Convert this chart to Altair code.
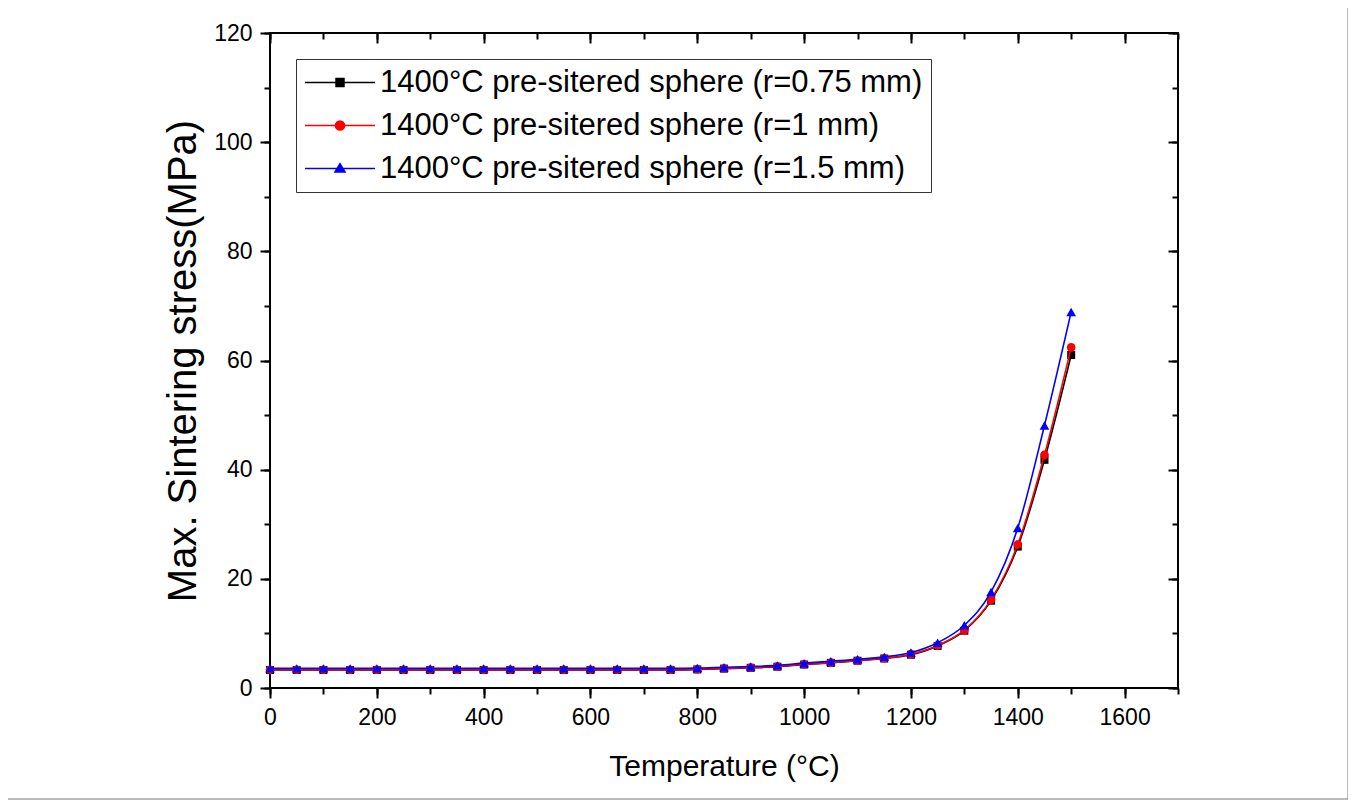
import altair as alt
import pandas as pd

FONT = "Liberation Sans"

temps = [0, 50, 100, 150, 200, 250, 300, 350, 400, 450, 500, 550, 600, 650, 700, 750,
         800, 850, 900, 950, 1000, 1050, 1100, 1150, 1200, 1250, 1300, 1350, 1400, 1450, 1500]

r075 = [3.3, 3.3, 3.3, 3.3, 3.3, 3.3, 3.3, 3.3, 3.3, 3.3, 3.3, 3.3, 3.3, 3.3, 3.3, 3.3,
        3.4, 3.55, 3.7, 3.9, 4.3, 4.6, 5.0, 5.4, 6.1, 7.7, 10.5, 16.0, 25.9, 41.8, 61.0]
r1 = [3.35, 3.35, 3.35, 3.35, 3.35, 3.35, 3.35, 3.35, 3.35, 3.35, 3.35, 3.35, 3.35, 3.35, 3.35, 3.35,
      3.45, 3.6, 3.75, 3.95, 4.35, 4.65, 5.0, 5.45, 6.2, 7.8, 10.6, 16.2, 26.3, 42.7, 62.4]
r15 = [3.6, 3.6, 3.6, 3.6, 3.6, 3.6, 3.6, 3.6, 3.6, 3.6, 3.6, 3.6, 3.6, 3.6, 3.6, 3.6,
       3.65, 3.8, 3.95, 4.15, 4.55, 4.9, 5.25, 5.7, 6.5, 8.3, 11.5, 17.6, 29.3, 48.1, 68.9]

series_names = ["1400°C pre-sitered sphere (r=0.75 mm)",
                "1400°C pre-sitered sphere (r=1 mm)",
                "1400°C pre-sitered sphere (r=1.5 mm)"]
colors = ["#000000", "#ff0000", "#0000ff"]
shapes = ["square", "circle", "triangle-up"]
marker_sizes = [64, 75, 95]
legend_paths = [
    "M-1,0H1M-0.114,-0.114H0.114V0.114H-0.114Z",
    "M-1,0H1M0.13,0A0.13,0.13 0 1,1 -0.13,0A0.13,0.13 0 1,1 0.13,0Z",
    "M-1,0H1M0,-0.14L0.145,0.1H-0.145Z",
]

x_major = [0, 200, 400, 600, 800, 1000, 1200, 1400, 1600]
x_minor = [0, 100, 200, 300, 400, 500, 600, 700, 800, 900, 1000, 1100, 1200, 1300, 1400, 1500, 1600, 1700]
y_major = [0, 20, 40, 60, 80, 100, 120]
y_minor = [0, 10, 20, 30, 40, 50, 60, 70, 80, 90, 100, 110, 120]

rows = []
for name, vals in zip(series_names, [r075, r1, r15]):
    for t, v in zip(temps, vals):
        rows.append({"T": t, "v": v, "s": name})
df = pd.DataFrame(rows)

xs = alt.Scale(domain=[0, 1700], nice=False, zero=False)
ys = alt.Scale(domain=[0, 120], nice=False, zero=False)

common = dict(tickColor="black", tickWidth=2, domain=False, grid=False)

ax_bottom = alt.Axis(orient="bottom", values=x_major, format="d", tickSize=10, labelFontSize=23,
                     labelFont=FONT, labelColor="black", labelPadding=8, labelFlush=False,
                     labelOverlap=False, title="Temperature (°C)", titleFontSize=30, titleFont=FONT,
                     titleFontWeight="normal", titleColor="black", titlePadding=22, **common)
ax_left = alt.Axis(orient="left", values=y_major, format="d", tickSize=10, labelFontSize=23,
                   labelFont=FONT, labelColor="black", labelPadding=8, labelFlush=False,
                   labelOverlap=False, title="Max. Sintering stress(MPa)", titleFontSize=40,
                   titleFont=FONT, titleFontWeight="normal", titleColor="black", titlePadding=10,
                   **common)
ax_bottom_minor = alt.Axis(orient="bottom", values=x_minor, tickSize=6, labels=False, title=None, **common)
ax_left_minor = alt.Axis(orient="left", values=y_minor, tickSize=6, labels=False, title=None, **common)
ax_top = alt.Axis(orient="top", values=x_major, tickSize=10, offset=-10, labels=False, title=None, **common)
ax_right = alt.Axis(orient="right", values=y_major, tickSize=10, offset=-10, labels=False, title=None, **common)
ax_top_minor = alt.Axis(orient="top", values=x_minor, tickSize=6, offset=-6, labels=False, title=None, **common)
ax_right_minor = alt.Axis(orient="right", values=y_minor, tickSize=6, offset=-6, labels=False, title=None, **common)

xe = alt.X("T:Q", scale=xs, axis=ax_bottom)
ye = alt.Y("v:Q", scale=ys, axis=ax_left)

data_charts = []
for name, c, sh, sz in zip(series_names, colors, shapes, marker_sizes):
    sub = df[df["s"] == name]
    data_charts.append(
        alt.Chart(sub).mark_line(color=c, strokeWidth=1.6, interpolate="monotone").encode(x=xe, y=ye)
    )
    data_charts.append(
        alt.Chart(sub).mark_point(shape=sh, filled=True, color=c, size=sz, opacity=1).encode(x=xe, y=ye)
    )
data_layer = alt.layer(*data_charts)

def axis_layer(xa, ya):
    return alt.Chart(df).mark_point(opacity=0).encode(
        x=alt.X("T:Q", scale=xs, axis=xa), y=alt.Y("v:Q", scale=ys, axis=ya))

minor_layer = axis_layer(ax_bottom_minor, ax_left_minor)
top_layer = axis_layer(ax_top, ax_right)
top_minor_layer = axis_layer(ax_top_minor, ax_right_minor)

leg = alt.Legend(orient="none", legendX=26, legendY=26, padding=8, strokeColor="#333333",
                 fillColor="white", labelFontSize=31, labelFont=FONT, labelColor="black",
                 labelLimit=1000, symbolSize=4900, symbolStrokeWidth=1.5, rowPadding=11,
                 clipHeight=31, labelOffset=4, title=None, symbolOpacity=1, cornerRadius=0)

legend_layer = alt.Chart(df).transform_filter("false").mark_point(
    filled=True, opacity=1, strokeWidth=1.5).encode(
    fill=alt.Fill("s:N", scale=alt.Scale(domain=series_names, range=colors), legend=leg),
    stroke=alt.Stroke("s:N", scale=alt.Scale(domain=series_names, range=colors), legend=leg),
    shape=alt.Shape("s:N", scale=alt.Scale(domain=series_names, range=legend_paths), legend=leg),
)

border = alt.Chart(pd.DataFrame({"a": [0]})).mark_rect(
    filled=False, color="#777777", strokeWidth=1).encode(
    x=alt.value(-267), x2=alt.value(1078), y=alt.value(-29), y2=alt.value(766))

chart = alt.layer(data_layer, minor_layer, top_layer, top_minor_layer, legend_layer, border).resolve_scale(
    x="independent", y="independent"
).properties(
    width=908, height=655,
    autosize=alt.AutoSizeParams(type="none"),
    padding={"left": 262, "top": 25, "right": 170, "bottom": 113},
    background="white",
).configure_view(stroke="black", strokeWidth=2)

chart.save("out.html", embed_options={"renderer": "svg", "actions": False})
